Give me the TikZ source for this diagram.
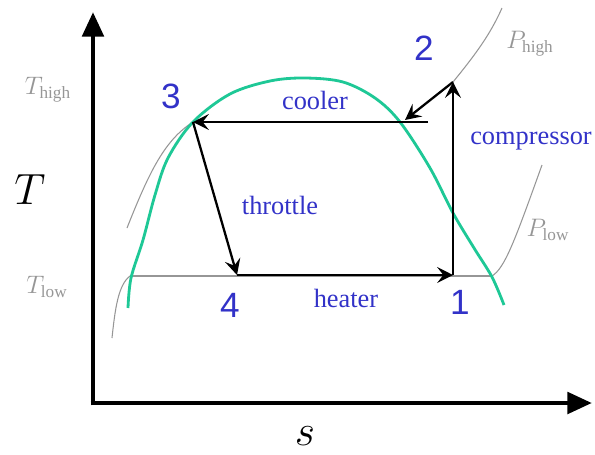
\documentclass[tikz,border=0pt]{standalone}
\usepackage{fontspec}
\setmainfont{Liberation Serif}
\newfontfamily\digitfont{Liberation Sans}
\usetikzlibrary{arrows.meta}
\definecolor{domegreen}{RGB}{30,200,150}
\definecolor{lblblue}{RGB}{50,50,200}
\definecolor{isogray}{RGB}{150,150,150}

\begin{document}
\begin{tikzpicture}[
                x=0.02cm, y=-0.02cm,
                axis/.style={line width=2.8pt, -{Triangle[length=14pt, width=12pt]}},
                arr/.style={line width=1.3pt, -{Stealth[length=9pt, width=9pt, inset=3.5pt]}},
                iso/.style={isogray, line width=0.6pt},
                dome/.style={domegreen, line width=1.6pt},
                num/.style={text=lblblue, font=\fontsize{20}{20}\selectfont\digitfont},
                proc/.style={text=lblblue, font=\fontsize{15}{15}\selectfont},
                isolbl/.style={text=isogray, font=\fontsize{14}{14}\selectfont},
                axlbl/.style={font=\fontsize{26}{26}\selectfont}
            ]
            \useasboundingbox (0,0) rectangle (595,454);
            % axes
            \coordinate (o) at (93,403);
            \coordinate (ytop) at (93,12);
            \coordinate (xend) at (592,403);
            \draw[axis] ([yshift=-1.4pt]o) -- (ytop);
            \draw[axis] ([xshift=-1.4pt]o) -- (xend);
            \node[axlbl] (tlbl) at (30,190) {$T$};
            \node[axlbl] (slbl) at (305,436) {$s$};
            % cycle corners
            \coordinate (p1) at (453,275);
            \coordinate (p2) at (453,82);
            \coordinate (p3) at (193,122);
            \coordinate (p4) at (237,275);
            \coordinate (c2) at (428,122);
            \coordinate (c2tip) at (405,120);
            % isobars and isotherm
            \draw[iso] (p2) .. controls (475,55) and (490,35) .. (502,8);
            \draw[iso] (p3) .. controls (165,140) and (150,170) .. (127,228);
            \draw[iso] (492,276) .. controls (505,268) and (515,240) .. (542,165);
            \draw[iso] (130,276) .. controls (118,285) and (115,310) .. (112,338);
            \draw[iso] (130,276) -- (492,276);
            % saturation dome
            \draw[dome] plot[smooth, tension=0.55] coordinates {(128,308) (131,278) (143,240) (155,195) (168,158) (193,122) (230,94) (270,81) (305,78) (343,82) (375,98) (400,122) (430,168) (453,213) (474,248) (492,277) (504,305)};
            % process arrows
            \draw[arr] (c2) -- (p3);
            \draw[arr] (p3) -- (p4);
            \draw[arr] (p4) -- (p1);
            \draw[arr] (p1) -- (p2);
            \draw[arr] (p2) -- (c2tip);
            % labels
            \node[num] (n1) at (460,302) {1};
            \node[num] (n2) at (424,48) {2};
            \node[num] (n3) at (171,96) {3};
            \node[num] (n4) at (230,305) {4};
            \node[proc] (cool) at (315,100) {cooler};
            \node[proc] (thr) at (280,205) {throttle};
            \node[proc] (heat) at (346,298) {heater};
            \node[proc] (comp) at (531,141) {compressor};
            \node[isolbl] (thigh) at (48,90) {$T_{\mathrm{high}}$};
            \node[isolbl] (tlow) at (47,287) {$T_{\mathrm{low}}$};
            \node[isolbl] (phigh) at (530,44) {$P_{\mathrm{high}}$};
            \node[isolbl] (plow) at (548,230) {$P_{\mathrm{low}}$};
        \end{tikzpicture}
\end{document}
